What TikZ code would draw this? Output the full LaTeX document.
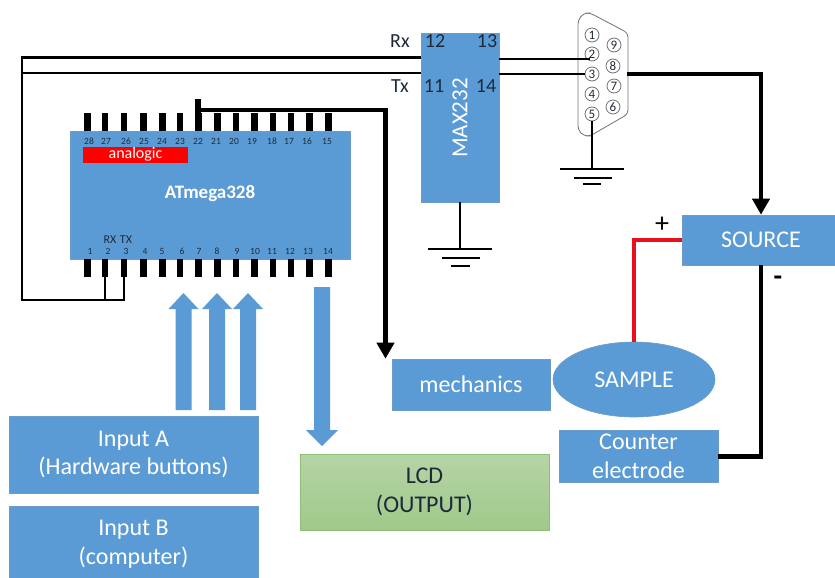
\documentclass[tikz,border=0pt]{standalone}
\usepackage{fontspec}
\setmainfont{Carlito}
\usetikzlibrary{arrows.meta,shapes.geometric}
\definecolor{bluefill}{HTML}{5B9BD5}
\definecolor{blueedge}{HTML}{6C9CC8}
\definecolor{greenedge}{HTML}{8FBF74}
\definecolor{greentop}{HTML}{B6D4A6}
\definecolor{greenbot}{HTML}{9FC98A}
\definecolor{inkdark}{HTML}{1E2A3A}
\definecolor{redwire}{HTML}{E9101C}
\definecolor{shellgray}{HTML}{707070}
\tikzset{
  bluebox/.style={rectangle,fill=bluefill,draw=blueedge,line width=.6pt,inner sep=0pt,align=center,text=white,font=\fontsize{24}{28.5}\selectfont},
  twolines/.style={execute at begin node={\rule{0pt}{20pt}}},
  pinbar/.style={rectangle,fill=black,inner sep=0pt,minimum height=18pt},
  pinnum/.style={inner sep=0pt,text=inkdark,font=\fontsize{9.5}{9.5}\selectfont},
  wire/.style={draw=black,line width=2.6pt,line cap=butt,line join=miter},
  thinwire/.style={draw=black,line width=2.2pt,line join=miter},
  heavywire/.style={draw=black,line width=4.3pt,line join=miter},
  headtip/.style={-{Triangle[length=16pt,width=17pt]}},
  blockarrow/.style={fill=bluefill,draw=none},
  gndbar/.style={draw=black,line width=2.5pt},
  dbpin/.style={circle,draw=shellgray,line width=.8pt,minimum size=14pt,inner sep=0pt,text=inkdark,font=\fontsize{13}{13}\selectfont},
  plain/.style={inner sep=0pt,text=inkdark,font=\fontsize{20}{20}\selectfont},
}
\begin{document}
\begin{tikzpicture}[x=1pt,y=-1pt]
\useasboundingbox (0,0) rectangle (835,578);
\clip (0,0) rectangle (835,578);

% chip
\node[bluebox,minimum width=280pt,minimum height=128pt] (chip) at (210,195) {};
\foreach \n/\x/\w in {28/87/7,27/105/5.5,26/124/6,25/143/7,24/162/7,23/180/5.5,22/198/7,21/217/7,20/236/5.5,19/254/7,18/273/6,17/291/5.5,16/309/7,15/328/7}
  \node[pinbar,minimum width=\w pt] (pT\n) at (\x,122) {};
\foreach \n/\x/\w in {1/87/7,2/105/5.5,3/124/6,4/143/7,5/162/7,6/180/5.5,7/198/7,8/217/7,9/236/5.5,10/254/7,11/273/6,12/291/5.5,13/309/7,14/328/7}
  \node[pinbar,minimum width=\w pt] (pB\n) at (\x,268) {};
\foreach \n/\x in {28/89,27/106,26/126,25/144,24/162,23/180,22/198,21/216,20/234,19/252,18/272,17/289,16/307,15/327}
  \node[pinnum] (nT\n) at (\x,141) {\n};
\foreach \n/\x in {1/90,2/108,3/126,4/145,5/162,6/182,7/199,8/217,9/237,10/255,11/272,12/290,13/308,14/328}
  \node[pinnum] (nB\n) at (\x,251.5) {\n};
\node[rectangle,fill=red,inner sep=0pt,minimum width=105pt,minimum height=16pt,text=white,font=\fontsize{16}{16}\selectfont] (ana) at (135.5,154.5) {analogic};
\node[inner sep=0pt,text=white,font=\fontsize{19}{19}\selectfont\bfseries] (atm) at (210,194) {ATmega328};
\node[pinnum,font=\fontsize{12}{12}\selectfont] (rxp) at (110,240) {RX};
\node[pinnum,font=\fontsize{12}{12}\selectfont] (txp) at (126,240) {TX};

% MAX232
\node[bluebox,minimum width=78pt,minimum height=169pt] (max) at (460,117.5) {};
\node[inner sep=0pt,text=white,rotate=90,font=\fontsize{23}{23}\selectfont] (maxt) at (460,118) {MAX232};
\node[plain] (n12) at (435,41) {12};
\node[plain] (n13) at (487,41) {13};
\node[plain] (n11) at (434,86) {11};
\node[plain] (n14) at (486,86) {14};
\node[plain] (lrx) at (400,41) {Rx};
\node[plain] (ltx) at (400,86) {Tx};

% DB9 shell
\draw[shellgray,line width=.8pt,rounded corners=4pt] (578,20) -- (584,13) -- (590,13) -- (628,33) -- (628,114) -- (590,136) -- (584,136) -- (578,130) -- cycle;
\foreach \d/\x/\y in {1/592/35,2/592/54,3/592/74,4/592/94,5/592/114,9/614/45,8/613/66,7/614/86,6/613/107}
  \node[dbpin] (c\d) at (\x,\y) {\d};

% boxes
\node[bluebox,minimum width=158pt,minimum height=50pt] (source) at (761,240) {SOURCE};
\node[ellipse,fill=bluefill,draw=blueedge,line width=.6pt,inner sep=0pt,minimum width=162pt,minimum height=75pt,text=white,font=\fontsize{24}{24}\selectfont] (sample) at (634,379.5) {SAMPLE};
\node[bluebox,minimum width=158pt,minimum height=51pt] (mech) at (471,384.5) {mechanics};
\node[bluebox,twolines,minimum width=159pt,minimum height=52pt] (counter) at (638.5,456.5) {Counter\\electrode};
\node[bluebox,twolines,minimum width=249pt,minimum height=77pt] (inA) at (133.5,454.5) {Input A\\(Hardware buttons)};
\node[bluebox,twolines,minimum width=249pt,minimum height=76pt] (inB) at (133.5,544) {Input B\\(computer)};
\node[rectangle,twolines,top color=greentop,bottom color=greenbot,draw=greenedge,line width=.8pt,inner sep=0pt,align=center,text=inkdark,font=\fontsize{24}{28.5}\selectfont,minimum width=249pt,minimum height=76pt] (lcd) at (424.5,492) {LCD\\(OUTPUT)};

% block arrows
\foreach \x in {183.5,217,248}
  \path[blockarrow] (\x-8,410) -- (\x-8,309) -- (\x-15,309) -- (\x,293) -- (\x+15,309) -- (\x+8,309) -- (\x+8,410) -- cycle;
\path[blockarrow] (314,287) -- (330,287) -- (330,430) -- (338,430) -- (322,446) -- (306,430) -- (314,430) -- cycle;

% wiring
\coordinate (rxL) at (max.west |- 0,57.5);
\coordinate (txL) at (max.west |- 0,73);
\coordinate (tl) at (22,57.5);
\coordinate (tl2) at (22,73);
\coordinate (bl) at (22,300);
\draw[thinwire] (rxL) -- (tl) -- (bl) -- (pB3.south |- bl) -- (pB3.south);
\draw[thinwire] (txL) -- (tl2);
\draw[thinwire] (pB2.south) -- (pB2.south |- bl);

\coordinate (pin22top) at (198,99);
\coordinate (busR) at (385.5,110);
\draw[line width=6pt,draw=black] (pT22.north) -- (pin22top);
\draw[heavywire,headtip] (pT22.north |- busR) -- (busR) -- (busR |- mech.north);

\coordinate (c2w) at (590,58.7);
\coordinate (c3w) at (585,74);
\draw[thinwire] (max.east |- c2w) -- (c2w);
\draw[thinwire] (max.east |- c3w) -- (c3w);
\coordinate (db8) at (627,74);
\draw[heavywire,headtip] (db8) -- (db8 -| source.north) -- (source.north);

\draw[line width=4pt,draw=redwire,line join=miter] (source.west) -- (sample.north |- source.west) -- (sample.north);
\draw[heavywire] (source.south) -- (source.south |- counter.east) -- (counter.east);
\node[inner sep=0pt,text=black,font=\fontsize{28}{28}\selectfont] (plus) at (662,225) {+};
\node[inner sep=0pt,text=black,font=\fontsize{28}{28}\selectfont\bfseries] (minus) at (778,281) {-};

% grounds
\coordinate (g1) at (460,249);
\draw[wire] (max.south) -- (g1);
\draw[gndbar] (428,249) -- (492,249);
\draw[gndbar] (442,258) -- (480,258);
\draw[gndbar] (451,266) -- (470,266);
\coordinate (g2) at (592,169);
\draw[wire] (c5.south) -- (g2);
\draw[gndbar] (560,169) -- (624,169);
\draw[gndbar] (574,178) -- (612,178);
\draw[gndbar] (583,184) -- (601,184);
\end{tikzpicture}
\end{document}
